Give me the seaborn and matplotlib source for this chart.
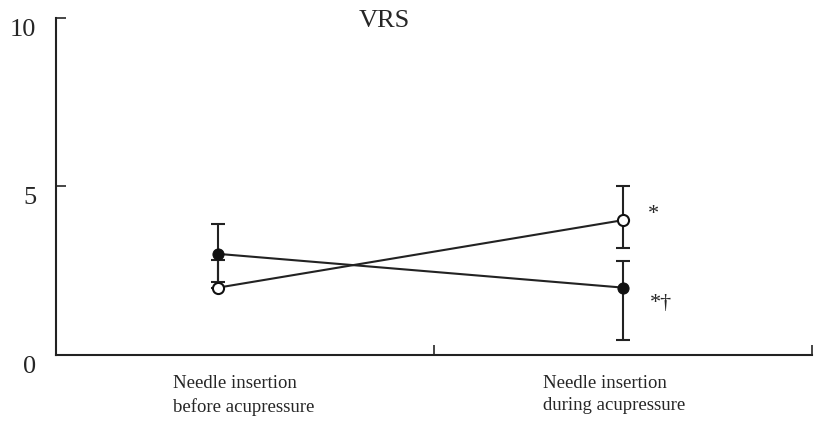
import pandas as pd
import matplotlib.pyplot as plt
import seaborn as sns

# data
x_pos = [0.43, 1.5]
categories = ['Needle insertion\nbefore acupressure', 'Needle insertion\nduring acupressure']
open_vals = [2.0, 4.0]
open_err_low = [0.0, 0.82]
open_err_high = [0.82, 1.0]
filled_vals = [3.0, 2.0]
filled_err_low = [0.82, 1.55]
filled_err_high = [0.9, 0.8]
marks = ['*', '*†']

sns.set_style('ticks')
plt.rcParams['font.family'] = ['Liberation Serif', 'DejaVu Serif']

df = pd.DataFrame({
    'x': x_pos * 2,
    'VRS': open_vals + filled_vals,
    'group': ['open'] * 2 + ['filled'] * 2,
})

fig = plt.figure(figsize=(8.2, 4.31), dpi=100)
ax = fig.add_axes([0.068, 0.174, 0.922, 0.782])

# error bars first, behind the markers
ax.errorbar(x_pos, filled_vals, yerr=[filled_err_low, filled_err_high], fmt='none',
            ecolor='#222222', elinewidth=1.5, capsize=5, capthick=1.5, zorder=2)
ax.errorbar(x_pos, open_vals, yerr=[open_err_low, open_err_high], fmt='none',
            ecolor='#222222', elinewidth=1.5, capsize=5, capthick=1.5, zorder=2)

sns.lineplot(data=df[df.group == 'filled'], x='x', y='VRS', ax=ax, color='#222222',
             lw=1.5, marker='o', markersize=8, markerfacecolor='#111111',
             markeredgecolor='#111111', zorder=3)
sns.lineplot(data=df[df.group == 'open'], x='x', y='VRS', ax=ax, color='#222222',
             lw=1.5, marker='o', markersize=8, markerfacecolor='white',
             markeredgecolor='#111111', markeredgewidth=1.5, zorder=3)

ax.text(1.582, 4.2, marks[0], fontsize=16, ha='center', va='center')
ax.text(1.60, 1.55, marks[1], fontsize=16, ha='center', va='center')

ax.set_xlim(0, 2)
ax.set_ylim(0, 10)
ax.set_xticks([1, 2])
ax.set_xticklabels([])
ax.set_yticks([0, 5, 10])
ax.set_yticklabels(['0', '5', '10'], fontsize=19)
ax.tick_params(axis='y', direction='in', length=7, width=1.2, pad=14)
ax.tick_params(axis='x', direction='in', length=7, width=1.2)
for lbl in ax.get_yticklabels():
    lbl.set_va('top')
ax.set_xlabel('')
ax.set_ylabel('')

for i, c in enumerate(categories):
    ax.text([0.31, 1.29][i], -0.55, c, fontsize=13.5, ha='left', va='top',
            linespacing=1.45)

ax.text(0.87, 9.76, 'VRS', fontsize=19, ha='center', va='baseline')

sns.despine(ax=ax)
ax.spines['left'].set_linewidth(1.5)
ax.spines['bottom'].set_linewidth(1.5)
ax.spines['left'].set_color('#222222')
ax.spines['bottom'].set_color('#222222')

fig.savefig('out.png', dpi=100)
